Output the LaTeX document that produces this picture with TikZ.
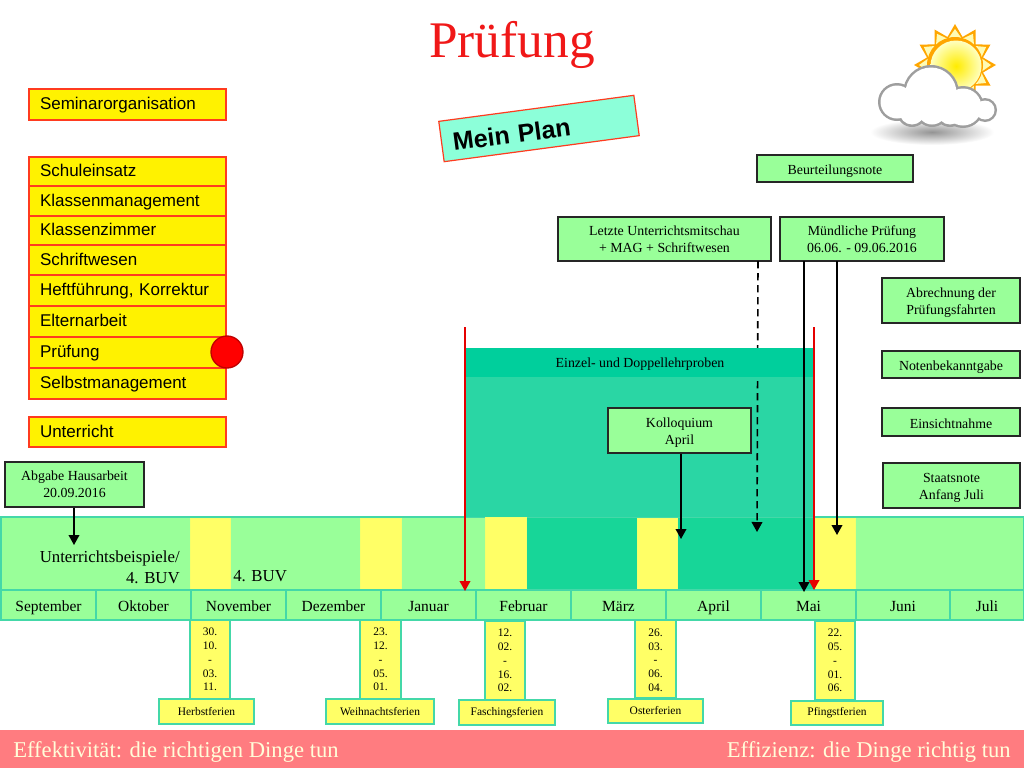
\documentclass[tikz,border=0pt]{standalone}
\usepackage{fontspec}
\setmainfont{Liberation Serif}
\newfontfamily\arialf{Liberation Sans}
\definecolor{lgreen}{HTML}{99FF99}
\definecolor{tealb}{HTML}{44D8A8}
\definecolor{yel}{HTML}{FFFF66}
\definecolor{listred}{HTML}{FF3B1F}
\definecolor{tealbody}{HTML}{2AD6A4}
\definecolor{tealhead}{HTML}{00CF9C}
\definecolor{teallow}{HTML}{17D698}
\definecolor{barred}{HTML}{FF7C80}
\definecolor{titlered}{HTML}{F01818}
\definecolor{planfill}{HTML}{8CFFD9}
\newcommand{\rbox}[7]{%
  \pgfmathsetmacro{\cxv}{(#3+#5)/2}\pgfmathsetmacro{\cyv}{(#4+#6)/2}%
  \pgfmathsetmacro{\wv}{(#5-#3)*0.75}\pgfmathsetmacro{\hv}{(#6-#4)*0.75}%
  \node[minimum width=\wv pt,minimum height=\hv pt,inner sep=0pt,#1] (#2) at (\cxv,\cyv) {#7};}
\newcommand{\toprule}[1]{\rule{0pt}{#1pt}}
\usetikzlibrary{arrows.meta}
\tikzset{
  listbox/.style={draw=listred,fill=yellow,line width=0.9pt,font=\arialf\fontsize{12.75}{14}\selectfont,
    text width=131.25pt,inner xsep=8.25pt,align=left,text height=10.6pt,text depth=2.4pt},
  notebox/.style={draw=black!85,fill=lgreen,line width=0.8pt,font=\fontsize{10.4}{12.8}\selectfont,align=center},
  monthbox/.style={draw=tealb,fill=lgreen,line width=0.9pt,font=\fontsize{11.6}{14}\selectfont,text height=10.6pt,text depth=1.6pt},
  yelbox/.style={draw=yel!90!lgreen,fill=yel,line width=0.5pt},
  datebox/.style={draw=tealb,fill=yel,line width=0.9pt,font=\fontsize{8.6}{10.4}\selectfont,align=center},
  ferienbox/.style={draw=tealb,fill=yel,line width=0.9pt,font=\fontsize{8.6}{10}\selectfont},
  arr/.style={-{Triangle[length=7.5pt,width=8pt]},line width=1.2pt,black},
  redarr/.style={-{Triangle[length=7.5pt,width=8pt]},line width=1.1pt,red!90!black},
  dashline/.style={dash pattern=on 5.5pt off 3.5pt},
  bartext/.style={text=yellow!15,font=\fontsize{16.95}{18}\selectfont,inner sep=0pt},
}
\begin{document}
\begin{tikzpicture}[x=0.75pt,y=-0.75pt]
\useasboundingbox (0,0) rectangle (1024,768);
\fill[white] (0,0) rectangle (1024,768);
% title
\node[text=titlered,font=\fontsize{38.5}{42}\selectfont,inner sep=0pt] (title) at (512,45) {Prüfung};
% sun and cloud
\shade[inner color=black!42,outer color=white,draw=none] (932,132) ellipse [x radius=62,y radius=13];
\fill[orange!70!yellow] \foreach \a [count=\i] in {-90,-60,-30,0,30,60,90,120,150,180,210,240}{
  \ifnum\i=1 ({955+41*cos(\a)},{65+41*sin(\a)}) \else -- ({955+41*cos(\a)},{65+41*sin(\a)}) \fi
  -- ({955+29*cos(\a+15)},{65+29*sin(\a+15)})} -- cycle;
\fill[yellow!30!white] \foreach \a [count=\i] in {-90,-60,-30,0,30,60,90,120,150,180,210,240}{
  \ifnum\i=1 ({955+36*cos(\a)},{65+36*sin(\a)}) \else -- ({955+36*cos(\a)},{65+36*sin(\a)}) \fi
  -- ({955+27*cos(\a+15)},{65+27*sin(\a+15)})} -- cycle;
\fill[orange!70!yellow] (955,65) circle [radius=28];
\shade[inner color=yellow!85!orange,outer color=yellow!25!white] (956,66) circle [radius=25.5];
\foreach \p/\q/\r in {931/93/28,897/102/19,963/107/21,985/110/12,932/110/17,912/112/15,950/112/15}
  \fill[black!38] (\p,\q) circle [radius=\r];
\foreach \p/\q/\r in {931/93/25.5,897/102/16.5,963/107/18.5,985/110/9.5,932/110/14.5,912/112/12.5,950/112/12.5}
  \fill[white] (\p,\q) circle [radius=\r];
% list
\rbox{listbox}{seminar}{29}{89}{226}{120}{Seminarorganisation}
\rbox{listbox}{schule}{29}{157}{226}{186}{Schuleinsatz}
\rbox{listbox}{klassen}{29}{186}{226}{216}{Klassenmanagement}
\rbox{listbox}{zimmer}{29}{216}{226}{245}{Klassenzimmer}
\rbox{listbox}{schrift}{29}{245}{226}{275}{Schriftwesen}
\rbox{listbox}{heft}{29}{275}{226}{306}{Heftführung, Korrektur}
\rbox{listbox}{eltern}{29}{306}{226}{337}{Elternarbeit}
\rbox{listbox}{pruef}{29}{337}{226}{368}{Prüfung}
\rbox{listbox}{selbst}{29}{368}{226}{399}{Selbstmanagement}
\rbox{listbox}{unterricht}{29}{417}{226}{447}{Unterricht}
\node[circle,draw=red!75!black,fill=red,line width=1pt,minimum size=24pt,inner sep=0pt] (dot) at (227,352) {};
% Mein Plan
\node[draw=listred,fill=planfill,line width=0.9pt,rotate=7.6,minimum height=30.5pt,text width=130.6pt,inner xsep=8.5pt,inner ysep=0pt,align=left,
  text height=18.6pt,text depth=2pt,font=\arialf\bfseries\fontsize{18.8}{20}\selectfont] (plan) at (539,128.5) {Mein Plan};
% band
\rbox{draw=tealb,fill=lgreen,line width=0.9pt}{band}{1}{517}{1024}{590}{}
\rbox{draw=none,fill=tealbody}{body}{466}{348}{814}{517}{}
\rbox{draw=none,fill=teallow}{low}{526}{518}{814}{590}{}
\rbox{yelbox}{y1}{190}{518}{230}{590}{}
\rbox{yelbox}{y2}{360}{518}{401}{590}{}
\rbox{yelbox}{y3}{485}{517}{526}{589}{}
\rbox{yelbox}{y4}{637}{518}{677}{590}{}
\rbox{yelbox}{y5}{815}{518}{855}{590}{}
% notes
\rbox{notebox}{beurteil}{757}{155}{913}{182}{\toprule{10.8}Beurteilungsnote}
\rbox{notebox}{letzte}{558}{217}{771}{261}{Letzte Unterrichtsmitschau\\+ MAG + Schriftwesen}
\rbox{notebox}{muendlich}{780}{217}{944}{261}{Mündliche Prüfung\\06.06. - 09.06.2016}
\rbox{notebox}{abrechnung}{882}{278}{1020}{323}{\toprule{11}Abrechnung der\\Prüfungsfahrten}
\rbox{notebox}{notenb}{882}{351}{1020}{378}{\toprule{10.8}Notenbekanntgabe}
\rbox{notebox}{einsicht}{882}{408}{1020}{436}{\toprule{9.3}Einsichtnahme}
\rbox{notebox}{staat}{883}{463}{1020}{508}{\toprule{11}Staatsnote\\Anfang Juli}
\rbox{notebox}{abgabe}{5}{462}{144}{507}{Abgabe Hausarbeit\\20.09.2016}
\rbox{notebox}{koll}{608}{408}{751}{453}{\toprule{11}Kolloquium\\April}
% months
\rbox{monthbox}{sep}{1}{590}{96}{620}{September}
\rbox{monthbox}{okt}{96}{590}{191}{620}{Oktober}
\rbox{monthbox}{nov}{191}{590}{286}{620}{November}
\rbox{monthbox}{dez}{286}{590}{381}{620}{Dezember}
\rbox{monthbox}{jan}{381}{590}{476}{620}{Januar}
\rbox{monthbox}{feb}{476}{590}{571}{620}{Februar}
\rbox{monthbox}{mar}{571}{590}{666}{620}{März}
\rbox{monthbox}{apr}{666}{590}{761}{620}{April}
\rbox{monthbox}{mai}{761}{590}{856}{620}{Mai}
\rbox{monthbox}{jun}{856}{590}{950}{620}{Juni}
\rbox{monthbox}{jul}{950}{590}{1024}{620}{Juli}
% band texts
\node[font=\fontsize{12.6}{15.6}\selectfont,align=right,anchor=north east,inner sep=0pt] (ub) at (180,551) {Unterrichtsbeispiele/\\4. BUV};
\node[font=\fontsize{12.6}{15}\selectfont,anchor=west,inner sep=0pt] (buv) at (233,576) {4. BUV};
% dates
\rbox{datebox}{d1}{190}{620}{230}{699}{30.\\10.\\-\\03.\\11.}
\rbox{datebox}{d2}{360}{620}{401}{699}{23.\\12.\\-\\05.\\01.}
\rbox{datebox}{d3}{485}{621}{525}{700}{12.\\02.\\-\\16.\\02.}
\rbox{datebox}{d4}{635}{620}{676}{698}{\toprule{7.5}26.\\03.\\-\\06.\\04.}
\rbox{datebox}{d5}{815}{621}{855}{700}{22.\\05.\\-\\01.\\06.}
\rbox{ferienbox}{f1}{159}{699}{254}{724}{Herbstferien}
\rbox{ferienbox}{f2}{326}{699}{434}{724}{Weihnachtsferien}
\rbox{ferienbox}{f3}{459}{700}{555}{725}{Faschingsferien}
\rbox{ferienbox}{f4}{608}{699}{703}{723}{Osterferien}
\rbox{ferienbox}{f5}{791}{701}{883}{725}{Pfingstferien}
% bar
\rbox{draw=none,fill=barred}{bar}{0}{730}{1024}{768}{}
\node[bartext,anchor=west] (eff1) at (13,752) {Effektivität: die richtigen Dinge tun};
\node[bartext,anchor=east] (eff2) at (1011,752) {Effizienz: die Dinge richtig tun};
% connectors
\coordinate (a1) at (74,545);
\coordinate (a2) at (681,539);
\coordinate (a3s) at (758,261);
\coordinate (a3) at (757,532);
\coordinate (a4s) at (804,261);
\coordinate (a4) at (804,592);
\coordinate (a5s) at (837,261);
\coordinate (a5) at (837,535);
\coordinate (r1s) at (465,327);
\coordinate (r1) at (465,591);
\coordinate (r2s) at (814,327);
\coordinate (r2) at (814,590);
\draw[arr] (abgabe.south -| a1) -- (a1);
\draw[arr] (koll.south -| a2) -- (a2);
\draw[arr,dashline] (a3s) -- (a3);
% header
\rbox{draw=none,fill=tealhead,font=\fontsize{10.4}{13}\selectfont,text height=9.5pt,text depth=2pt}{head}{466}{348}{814}{377}{Einzel- und Doppellehrproben}
\draw[redarr] (r1s) -- (r1);
\draw[redarr] (r2s) -- (r2);
\draw[arr] (a4s) -- (a4);
\draw[arr] (a5s) -- (a5);
\end{tikzpicture}
\end{document}
